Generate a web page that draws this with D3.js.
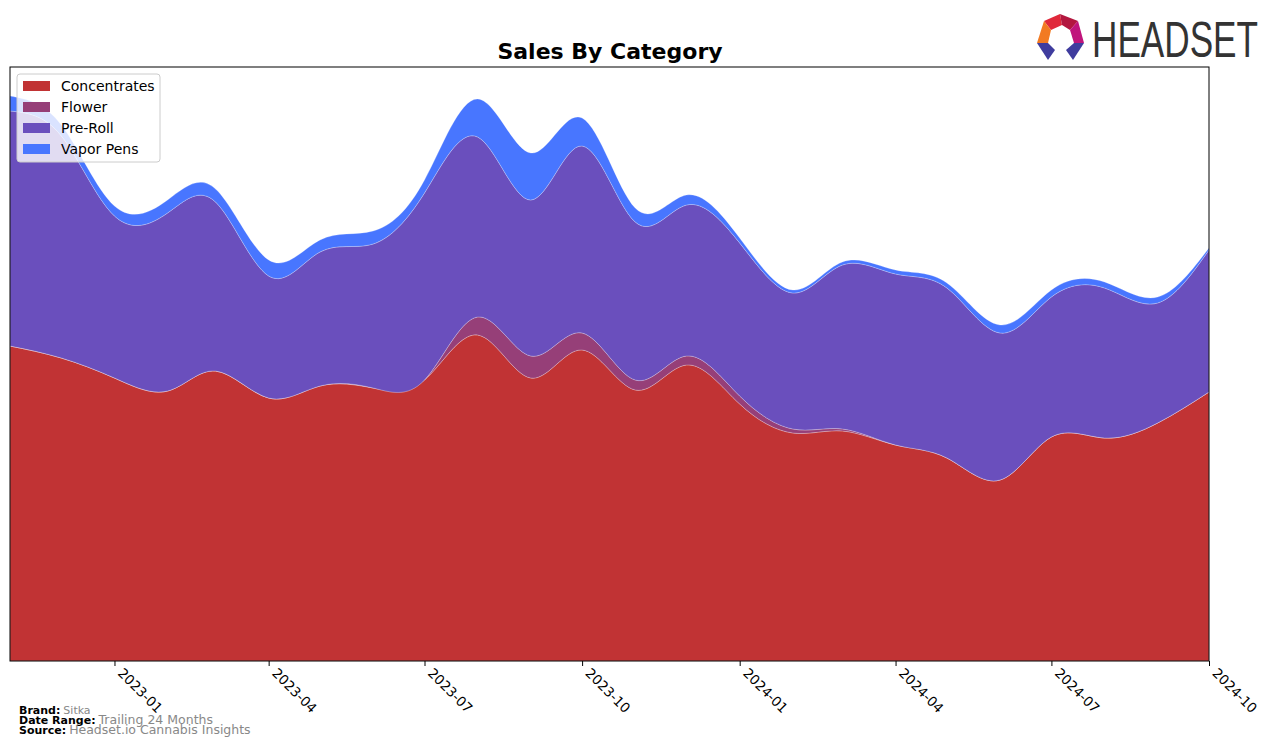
<!DOCTYPE html>
<html>
<head>
<meta charset="utf-8">
<script src="https://cdn.jsdelivr.net/npm/d3@7"></script>
<style>
  body { margin: 0; background: #fff; }
  svg { display: block; font-family: "DejaVu Sans", sans-serif; }
</style>
</head>
<body>
<div id="wrapper"></div>
<script>
// monthly values, 2022-11 .. 2024-10
const months = ["2022-11","2022-12","2023-01","2023-02","2023-03","2023-04","2023-05","2023-06",
  "2023-07","2023-08","2023-09","2023-10","2023-11","2023-12","2024-01","2024-02",
  "2024-03","2024-04","2024-05","2024-06","2024-07","2024-08","2024-09","2024-10"];
const concentrates = [315,303,283,270,290,263,275,273,281,326,283,311,271,296,257,228,230,216,203,181,224,223,238,269];
const flower       = [0,0,0,0,0,0,0,0,0,18,22,17,10,9,8,4,2,0,0,0,0,0,0,0];
const preRoll      = [235,222,162,178,169,122,134,144,187,180,156,187,158,151,153,136,164,171,170,147,140,150,120,142];
const vaporPens    = [15,11,10,13,13,16,12,13,13,38,47,28,14,10,5,3,3,4,5,8,7,6,6,2];

const categories = ["Concentrates", "Flower", "Pre-Roll", "Vapor Pens"];
const colors = ["#c13334", "#963f78", "#6a4fbd", "#4876ff"];
const yMax = 594;

const parseMonth = d3.timeParse("%Y-%m");
const data = months.map((m, i) => ({
  date: parseMonth(m),
  "Concentrates": concentrates[i],
  "Flower": flower[i],
  "Pre-Roll": preRoll[i],
  "Vapor Pens": vaporPens[i],
}));

let dimensions = {
  width: 1276,
  height: 748,
  margin: { top: 67, right: 67, bottom: 87, left: 10 },
};
dimensions.boundedWidth = dimensions.width - dimensions.margin.left - dimensions.margin.right;
dimensions.boundedHeight = dimensions.height - dimensions.margin.top - dimensions.margin.bottom;

const svg = d3.select("#wrapper").append("svg")
  .attr("width", dimensions.width)
  .attr("height", dimensions.height);

const bounds = svg.append("g")
  .attr("transform", `translate(${dimensions.margin.left},${dimensions.margin.top})`);

const xScale = d3.scaleTime()
  .domain(d3.extent(data, d => d.date))
  .range([0, dimensions.boundedWidth]);

const yScale = d3.scaleLinear()
  .domain([0, yMax])
  .range([dimensions.boundedHeight, 0]);

const series = d3.stack().keys(categories)(data);

const areaGenerator = d3.area()
  .x(d => xScale(d.data.date))
  .y0(d => yScale(d[0]))
  .y1(d => yScale(d[1]))
  .curve(d3.curveNatural);

bounds.append("clipPath").attr("id", "plot-clip")
  .append("rect")
  .attr("width", dimensions.boundedWidth)
  .attr("height", dimensions.boundedHeight);

bounds.append("g").attr("clip-path", "url(#plot-clip)")
  .selectAll("path")
  .data(series)
  .join("path")
  .attr("d", areaGenerator)
  .attr("fill", (d, i) => colors[i])
  .attr("stroke", "#ffffff")
  .attr("stroke-opacity", 0.3)
  .attr("stroke-width", 0.8);

// frame
bounds.append("rect")
  .attr("width", dimensions.boundedWidth)
  .attr("height", dimensions.boundedHeight)
  .attr("fill", "none")
  .attr("stroke", "#000")
  .attr("stroke-width", 1);

// x axis
const xAxisGenerator = d3.axisBottom(xScale)
  .ticks(d3.timeMonth.filter(d => d.getMonth() % 3 === 0))
  .tickFormat(d3.timeFormat("%Y-%m"))
  .tickSizeOuter(0)
  .tickSize(5);

const xAxis = bounds.append("g")
  .attr("transform", `translate(0,${dimensions.boundedHeight})`)
  .call(xAxisGenerator);
xAxis.select(".domain").remove();
xAxis.selectAll("text")
  .attr("font-size", 13.5)
  .attr("font-family", "DejaVu Sans")
  .attr("fill", "#000")
  .attr("text-anchor", "start")
  .attr("dy", null)
  .attr("y", null)
  .attr("transform", "translate(2,13) rotate(45)");

// title
svg.append("text")
  .attr("x", 610)
  .attr("y", 59)
  .attr("text-anchor", "middle")
  .attr("font-size", 22)
  .attr("font-weight", "bold")
  .text("Sales By Category");

// legend
const legend = svg.append("g").attr("transform", "translate(17,74)");
legend.append("rect")
  .attr("width", 143).attr("height", 88)
  .attr("rx", 3)
  .attr("fill", "#fff").attr("fill-opacity", 0.8)
  .attr("stroke", "#cccccc");
categories.forEach((c, i) => {
  const row = legend.append("g").attr("transform", `translate(6,${12 + i * 21})`);
  row.append("rect").attr("x", 0).attr("y", -5).attr("width", 27).attr("height", 10).attr("fill", colors[i]);
  row.append("text").attr("x", 38).attr("y", 5).attr("font-size", 14).attr("fill", "#000").text(c);
});

// footer
const footer = [
  ["Brand:", "Sitka", 714, 11],
  ["Date Range:", "Trailing 24 Months", 724, 12.5],
  ["Source:", "Headset.io Cannabis Insights", 734, 12.5],
];
footer.forEach(([label, value, y, size]) => {
  const t = svg.append("text").attr("x", 19).attr("y", y).attr("font-size", 11);
  t.append("tspan").attr("font-weight", "bold").attr("fill", "#000").text(label);
  t.append("tspan").attr("dx", 3).attr("fill", "#888").attr("font-size", size).text(value);
});

// logo
const logo = svg.append("g");
const logoParts = [
  [[1044,21],[1060,14],[1062,25],[1051,30], "#e0283a"],
  [[1060,14],[1078,21],[1070,30],[1062,25], "#b3173f"],
  [[1078,21],[1084,43],[1074,43],[1070,30], "#c0157c"],
  [[1044,21],[1051,30],[1048,43],[1037,43], "#f27a22"],
  [[1037,43],[1048,43],[1055,50],[1048,60], "#3f3c9e"],
  [[1074,43],[1084,43],[1073,60],[1066,50], "#3f3c9e"],
];
logoParts.forEach(p => {
  logo.append("polygon")
    .attr("points", p.slice(0, 4).map(q => q.join(",")).join(" "))
    .attr("fill", p[4]);
});
logo.append("text")
  .attr("x", 1092).attr("y", 57)
  .attr("font-family", "Liberation Sans Narrow, Liberation Sans, sans-serif")
  .attr("font-size", 50)
  .attr("textLength", 166)
  .attr("lengthAdjust", "spacingAndGlyphs")
  .attr("fill", "#333")
  .text("HEADSET");
</script>
</body>
</html>
